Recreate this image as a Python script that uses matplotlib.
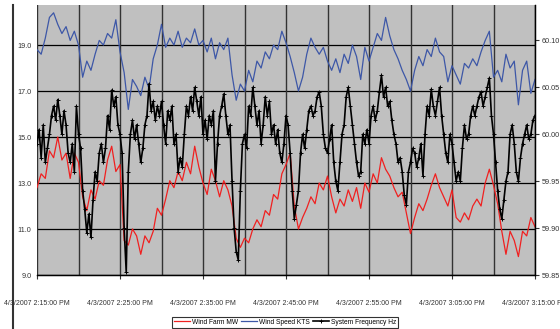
import numpy as np
import matplotlib
matplotlib.use("Agg")
import matplotlib.pyplot as plt
from matplotlib.lines import Line2D

plt.rcParams['font.family'] = ['Liberation Sans', 'DejaVu Sans']

# minutes after 2:15 PM
minutes_30s = np.arange(121) * 0.5   # wind data, every 30 s
minutes_15s = np.arange(241) * 0.25  # frequency, every 15 s

wind_speed = [
    18.8, 18.6, 19.3, 20.2, 20.4, 19.9, 19.5, 19.8, 19.2, 19.6,
    19.0, 17.6, 18.3, 17.9, 18.6, 19.2, 19.0, 19.5, 19.3, 20.1,
    18.7, 17.8, 16.2, 17.5, 17.2, 16.8, 17.6, 17.1, 18.4, 19.0,
    19.9, 18.9, 19.3, 19.0, 19.6, 18.9, 19.3, 19.1, 19.7, 19.0,
    19.2, 18.7, 19.3, 18.4, 19.1, 18.8, 19.3, 17.7, 16.6, 17.3,
    17.0, 17.9, 17.4, 18.3, 18.0, 18.7, 18.4, 19.0, 18.8, 19.6,
    19.1, 18.5, 17.8, 17.0, 17.6, 18.6, 19.3, 18.9, 18.6, 18.9,
    18.3, 17.9, 18.4, 17.8, 18.6, 18.2, 19.0, 18.5, 17.5, 18.9,
    18.3, 18.9, 19.5, 19.2, 20.2, 19.4, 18.8, 18.4, 17.9, 17.5,
    17.0, 17.9, 18.5, 18.1, 18.8, 18.5, 19.3, 18.7, 18.5, 17.4,
    18.1, 17.7, 17.3, 18.2, 18.0, 18.4, 18.1, 18.7, 19.2, 19.6,
    17.6, 17.9, 17.4, 18.6, 18.0, 18.3, 16.4, 17.9, 18.3, 16.9,
    17.5,
]

wind_farm = [
    12.8, 13.4, 13.2, 14.4, 14.1, 15.0, 14.0, 14.3, 13.2, 14.3,
    13.9, 12.4, 11.8, 12.7, 12.3, 13.1, 12.9, 14.0, 14.6, 13.5,
    13.8, 10.5, 10.3, 11.0, 10.7, 9.9, 10.7, 10.4, 10.9, 11.9,
    11.6, 12.3, 13.1, 12.8, 13.5, 13.1, 13.9, 13.4, 14.6, 13.7,
    13.0, 12.5, 13.6, 13.1, 12.4, 13.1, 12.7, 12.0, 10.6, 10.2,
    10.6, 10.4, 11.0, 11.4, 11.1, 11.8, 11.6, 12.5, 12.3, 13.4,
    13.8, 14.3, 12.0, 11.0, 11.5, 11.9, 12.4, 12.1, 13.0, 12.7,
    13.3, 12.4, 11.7, 12.3, 12.0, 12.7, 12.2, 12.8, 11.9, 13.0,
    12.6, 13.4, 13.0, 14.1, 13.6, 13.3, 12.8, 12.4, 12.6, 11.7,
    10.8, 11.5, 12.1, 11.8, 12.3, 12.9, 13.4, 12.8, 12.4, 12.0,
    12.7, 11.5, 11.3, 11.7, 11.4, 12.0, 12.3, 12.0, 13.0, 13.6,
    12.9, 12.1, 10.9, 9.9, 10.9, 10.5, 9.8, 10.9, 10.7, 11.5,
    11.1,
]

frequency = [
    59.99, 60.005, 59.975, 60.01, 59.97, 59.985, 60.00, 60.02, 60.03, 60.015,
    60.037, 60.02, 60.00, 60.025, 60.01, 59.98, 59.97, 59.99, 59.96, 60.03,
    60.00, 59.985, 59.94, 59.92, 59.895, 59.915, 59.89, 59.93, 59.96, 59.95,
    59.98, 59.99, 59.97, 59.985, 60.02, 60.005, 60.047, 60.03, 60.04, 60.01,
    60.00, 59.98, 59.90, 59.853, 59.96, 60.00, 60.015, 59.995, 60.01, 59.99,
    59.97, 59.985, 60.01, 60.02, 60.054, 60.025, 60.035, 60.015, 60.03, 60.02,
    60.035, 60.01, 59.99, 60.025, 60.015, 60.03, 59.99, 60.00, 59.96, 59.975,
    59.965, 60.00, 60.03, 60.02, 60.04, 60.025, 60.05, 60.035, 60.02, 60.04,
    60.00, 60.015, 59.995, 60.02, 60.01, 60.025, 59.95, 59.99, 60.02, 60.03,
    60.043, 60.02, 60.00, 60.01, 59.95, 59.90, 59.875, 59.866, 59.94, 59.99,
    60.00, 59.985, 60.03, 60.02, 60.05, 60.03, 60.01, 60.025, 59.99, 60.01,
    60.04, 60.02, 60.035, 60.00, 60.01, 59.99, 60.005, 59.98, 59.97, 59.99,
    60.02, 60.01, 59.98, 59.94, 59.91, 59.925, 59.94, 59.98, 60.00, 59.985,
    60.005, 60.025, 60.03, 60.02, 60.025, 60.04, 60.045, 60.03, 60.00, 59.985,
    59.98, 59.995, 60.01, 59.97, 59.95, 59.94, 59.97, 60.00, 60.01, 60.04,
    60.05, 60.03, 60.01, 59.99, 59.97, 59.955, 59.96, 60.00, 59.99, 60.005,
    59.99, 60.02, 60.03, 60.015, 60.025, 60.045, 60.063, 60.04, 60.05, 60.03,
    60.035, 60.015, 60.00, 59.99, 59.97, 59.975, 59.96, 59.935, 59.925, 59.96,
    59.97, 59.985, 59.98, 59.965, 59.975, 59.99, 59.956, 60.00, 60.03, 60.02,
    60.048, 60.03, 60.02, 60.035, 60.05, 60.02, 60.00, 59.98, 59.97, 60.00,
    59.99, 59.97, 59.95, 59.96, 59.95, 59.985, 60.01, 59.995, 60.00, 60.02,
    60.03, 60.02, 60.03, 60.04, 60.045, 60.03, 60.04, 60.05, 60.06, 60.02,
    60.00, 59.97, 59.94, 59.92, 59.91, 59.93, 59.95, 59.96, 60.00, 60.01,
    59.99, 59.96, 59.95, 59.975, 59.99, 60.00, 60.01, 59.995, 60.00, 60.015,
    60.02,
]

time_ticks = [0, 10, 20, 30, 40, 50, 60]
time_labels = [
    "4/3/2007 2:15:00 PM", "4/3/2007 2:25:00 PM", "4/3/2007 2:35:00 PM",
    "4/3/2007 2:45:00 PM", "4/3/2007 2:55:00 PM", "4/3/2007 3:05:00 PM",
    "4/3/2007 3:15:00 PM",
]
left_ticks = [9.0, 11.0, 13.0, 15.0, 17.0, 19.0]
right_ticks = [59.85, 59.90, 59.95, 60.00, 60.05, 60.10]

fig = plt.figure(figsize=(5.6, 3.29), dpi=100)
ax = fig.add_axes([37 / 560, 1 - 275 / 329, 498 / 560, 270 / 329])
ax.set_facecolor('#c0c0c0')
ax2 = ax.twinx()

l1, = ax.plot(minutes_30s, wind_farm, color='#f02020', lw=0.9, label='Wind Farm MW')
l2, = ax.plot(minutes_30s, wind_speed, color='#3d57a7', lw=0.9, label='Wind Speed KTS')
l3, = ax2.plot(minutes_15s, frequency, color='black', lw=1.2, marker='+', ms=3,
               mew=0.7, label='System Frequency Hz')

ax.set_xlim(0, 60)
ax.set_ylim(9.0, 20.74)
ax2.set_ylim(59.85, 60.1378)

# grid
for v in left_ticks:
    ax.axhline(v, color='black', lw=0.9, zorder=1)
for m in range(0, 61, 5):
    ax.axvline(m, color='#333333', lw=1.0, zorder=1)

ax.set_xticks(time_ticks)
ax.set_xticklabels(time_labels)
ax.set_yticks(left_ticks)
ax.set_yticklabels(["%.1f" % v for v in left_ticks])
ax2.set_yticks(right_ticks)
ax2.set_yticklabels(["%.2f" % v for v in right_ticks])

ax.tick_params(axis='x', length=3, width=0.8, pad=15, labelsize=5.0, colors='#333333')
ax.tick_params(axis='y', length=0, pad=4, labelsize=5.2, colors='#333333')
ax2.tick_params(axis='y', length=3, width=0.8, pad=2, labelsize=5.2, colors='#333333')

for a in (ax, ax2):
    a.spines['top'].set_visible(False)
    a.spines['left'].set_visible(False)
    a.spines['bottom'].set_linewidth(0.9)
    a.spines['right'].set_linewidth(0.9)

leg = fig.legend(handles=[l1, l2, l3], loc='center', bbox_to_anchor=(285 / 560, 1 - 322 / 329),
                 ncol=3, fontsize=4.8, frameon=True, fancybox=False, handlelength=2.4,
                 handletextpad=0.3, columnspacing=0.5, borderpad=0.3)
leg.get_frame().set_edgecolor('black')
leg.get_frame().set_linewidth(0.8)

# page border at the left
fig.add_artist(Line2D([13 / 560, 13 / 560], [0, 1 - 5 / 329], color='#333333', lw=1.5))

fig.savefig('out.png', dpi=100)
